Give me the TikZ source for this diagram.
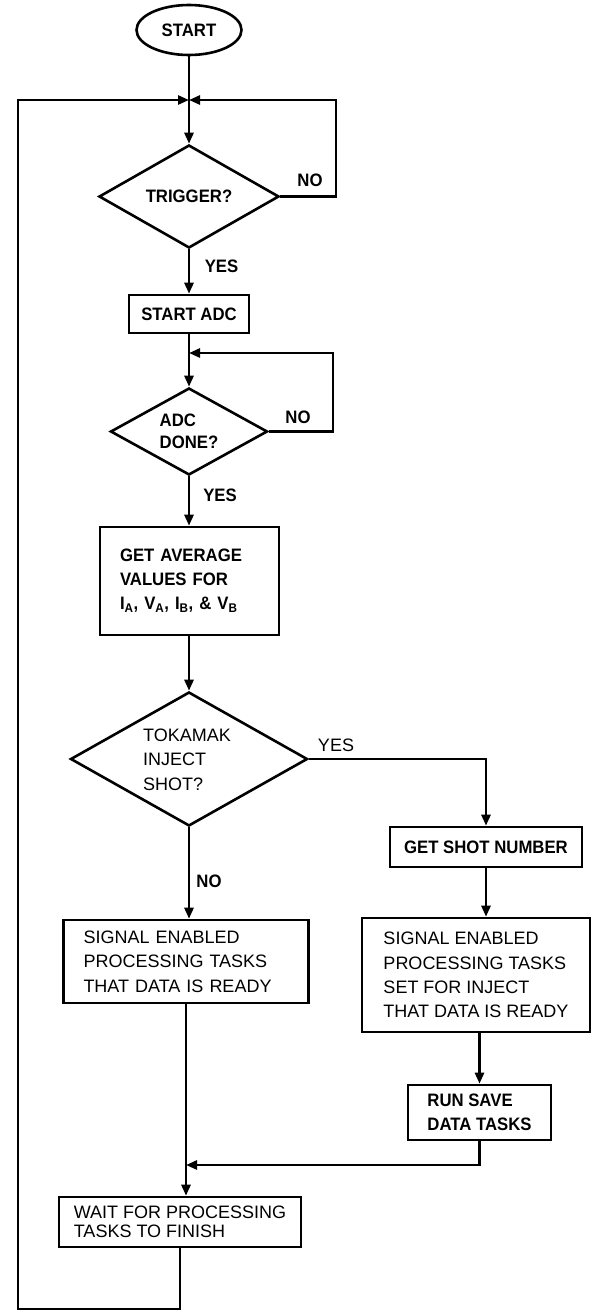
\documentclass[tikz,border=0pt]{standalone}
\usepackage{fontspec}
\setmainfont{Liberation Sans}
\newfontfamily\bfnt[FakeStretch=0.93]{Liberation Sans}
\usetikzlibrary{arrows.meta,shapes.geometric}
\tikzset{
  ln/.style={line width=2.6pt},
  arr/.style={ln,-{Triangle[length=11pt,width=9pt]}},
  box/.style={draw,ln,rectangle,inner sep=0pt,align=left},
  dia/.style={draw,ln,diamond,inner sep=0pt},
  btxt/.style={font=\bfnt\bfseries\fontsize{18}{24}\selectfont},
  rtxt/.style={font=\fontsize{18}{24.3}\selectfont},
  lbl/.style={inner sep=0pt,font=\bfnt\bfseries\fontsize{18}{22}\selectfont},
  rlbl/.style={inner sep=0pt,font=\fontsize{18}{22}\selectfont}
}
\begin{document}
\begin{tikzpicture}[x=1pt,y=-1pt]
\useasboundingbox (0,0) rectangle (595,1312);
% start
\node[draw,ln,ellipse,minimum width=105pt,minimum height=50pt,inner sep=0pt,btxt] (start) at (189,30) {START};
\coordinate (J) at (189,100);
% trigger
\node[dia,minimum width=180pt,minimum height=103pt] (trig) at (189,196.5) {};
\node[btxt,inner sep=0pt] (trigt) at (trig.center) {TRIGGER?};
% start adc
\node[box,btxt,minimum width=120pt,minimum height=38pt] (sadc) at (189,314) {START ADC};
% adc done
\node[dia,minimum width=157pt,minimum height=87pt] (adc) at (189,431.5) {};
\node[btxt,inner sep=0pt,align=left,font=\bfnt\bfseries\fontsize{18}{22}\selectfont] (adct) at (adc.center) {ADC\\DONE?};
% get average
\node[box,btxt,minimum width=179pt,minimum height=108pt,text width=139pt] (gav) at (189.5,581)
  {GET AVERAGE\\VALUES FOR\\I\textsubscript{A}, V\textsubscript{A}, I\textsubscript{B}, \& V\textsubscript{B}};
% tokamak
\node[dia,minimum width=237pt,minimum height=134pt] (tok) at (189,759) {};
\node[rtxt,inner sep=0pt,align=left,font=\fontsize{18}{24.5}\selectfont] (tokt) at (187,759.5) {TOKAMAK\\INJECT\\SHOT?};
% right column
\node[box,btxt,minimum width=192pt,minimum height=40pt] (gs) at (486,847) {GET SHOT NUMBER};
\node[box,rtxt,minimum width=228pt,minimum height=114pt] (s2) at (476,975)
  {SIGNAL ENABLED\\PROCESSING TASKS\\SET FOR INJECT\\THAT DATA IS READY};
\node[box,btxt,minimum width=143pt,minimum height=55pt] (rs) at (479.5,1112.5) {RUN SAVE\\DATA TASKS};
% left column
\node[box,rtxt,minimum width=245pt,minimum height=83pt,text width=205pt] (s1) at (186,961.5)
  {SIGNAL ENABLED\\PROCESSING TASKS\\THAT DATA IS READY};
\node[box,minimum width=242pt,minimum height=50pt,font=\fontsize{18}{19}\selectfont] (wait) at (180,1222)
  {WAIT FOR PROCESSING\\TASKS TO FINISH};
% coordinates for loops
\coordinate (trR) at (336,100);
\coordinate (adcJ) at (189,353);
\coordinate (adcR) at (333,353);
\coordinate (jn) at (186,1165);
\coordinate (bl) at (18,1309);
\coordinate (tl) at (18,100);
% labels
\node[lbl] (no1) at (310,180) {NO};
\node[lbl] (yes1) at (221.5,266.5) {YES};
\node[lbl] (no2) at (298,417) {NO};
\node[lbl] (yes2) at (220,495) {YES};
\node[rlbl] (yes3) at (336,745.5) {YES};
\node[lbl] (no3) at (209,881) {NO};
% connectors
\draw[ln] (start.south) -- (J);
\draw[arr] (J) -- (trig.north);
\draw[arr] (trig.east) -| (trR) -- (J);
\draw[arr] (trig.south) -- (sadc.north);
\draw[arr] (sadc.south) -- (adc.north);
\draw[arr] (adc.east) -| (adcR) -- (adcJ);
\draw[arr] (adc.south) -- (gav.north -| adc.south);
\draw[arr] (gav.south -| tok.north) -- (tok.north);
\draw[arr] (tok.east) -| (gs.north);
\draw[arr] (gs.south) -- (gs.south |- s2.north);
\draw[arr] (rs.north |- s2.south) -- (rs.north);
\draw[arr] (tok.south) -- (tok.south |- s1.north);
\draw[arr] (s1.south) -- (s1.south |- wait.north);
\draw[arr] (rs.south) |- (jn);
\draw[arr] (wait.south) |- (bl) -- (tl) -- (J);
\end{tikzpicture}
\end{document}
